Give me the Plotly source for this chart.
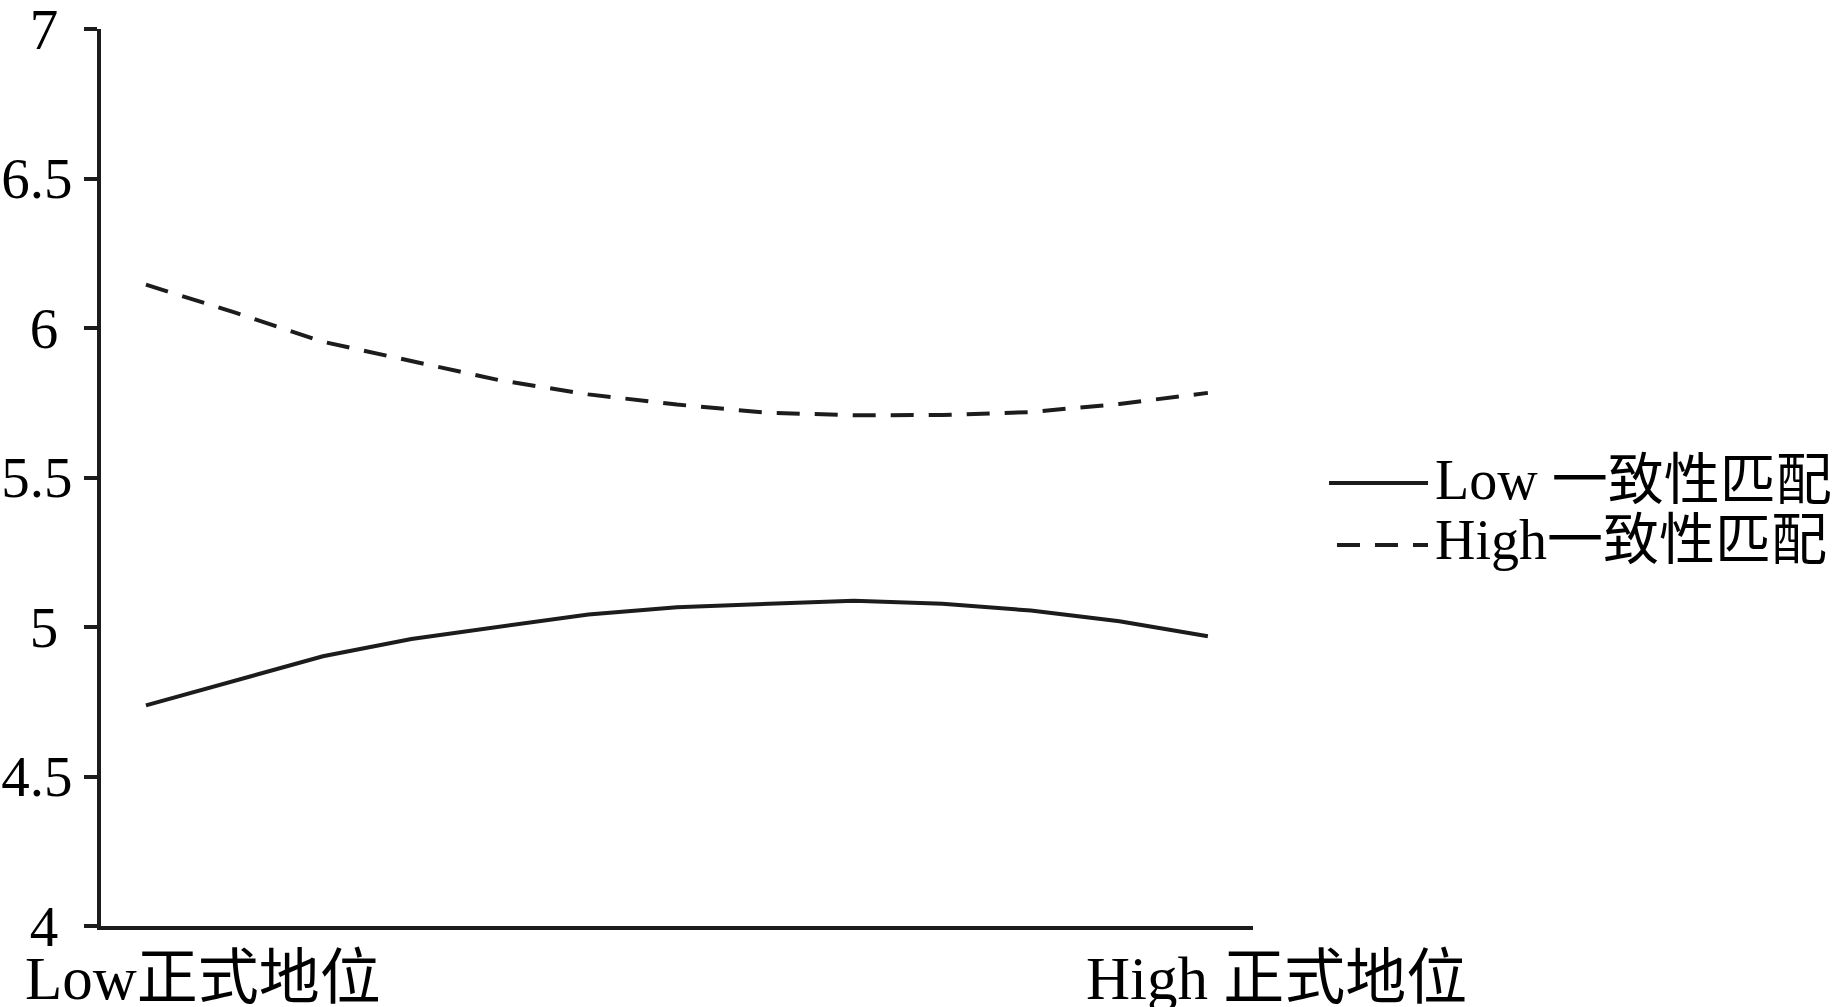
import plotly.graph_objects as go

# ---- data ----
x_points = list(range(13))
low_match = [4.738, 4.82, 4.902, 4.960, 5.002, 5.042, 5.066, 5.077, 5.088, 5.078, 5.055, 5.019, 4.969]
high_match = [6.145, 6.052, 5.954, 5.890, 5.825, 5.778, 5.744, 5.717, 5.708, 5.709, 5.719, 5.746, 5.783]
series_names = ["Low 一致性匹配", "High一致性匹配"]
y_tick_vals = [4, 4.5, 5, 5.5, 6, 6.5, 7]
y_tick_text = ["4\u00a0", "4.5", "5\u00a0", "5.5", "6\u00a0", "6.5", "7\u00a0"]
x_labels = ["Low正式地位", "High 正式地位"]
x_label_pos = [0.0885, 1.0208]   # paper fraction of the plot width

FONT = "Liberation Serif, 'Times New Roman', 'Noto Sans CJK SC', serif"
INK = "#1c1c1c"
FS = 57

fig = go.Figure()
fig.add_trace(go.Scatter(x=x_points, y=low_match, mode="lines", name=series_names[0],
                         line=dict(color=INK, width=4, dash="solid"), showlegend=False))
fig.add_trace(go.Scatter(x=x_points, y=high_match, mode="lines", name=series_names[1],
                         line=dict(color=INK, width=4, dash="23px,15px"), showlegend=False))

fig.update_layout(
    width=1839, height=1007,
    margin=dict(l=101, r=586, t=29, b=81, autoexpand=False),
    paper_bgcolor="white", plot_bgcolor="white",
    font=dict(family=FONT, size=FS, color="black"),
    showlegend=False,
)
fig.update_xaxes(range=[-0.508, 12.51], showgrid=False, zeroline=False,
                 showline=True, linecolor=INK, linewidth=4,
                 showticklabels=False, ticks="", automargin=False)
fig.update_yaxes(range=[4, 7], showgrid=False, zeroline=False,
                 showline=True, linecolor=INK, linewidth=4,
                 ticks="outside", ticklen=13, tickwidth=4, tickcolor=INK,
                 tickvals=y_tick_vals, ticktext=y_tick_text,
                 tickfont=dict(family=FONT, size=FS, color="black"),
                 ticklabelstandoff=0, ticklabeloverflow="allow", automargin=False)

# x category labels
for lab, pos in zip(x_labels, x_label_pos):
    fig.add_annotation(x=pos, y=-0.058, xref="paper", yref="paper", text=lab,
                       showarrow=False, xanchor="center", yanchor="middle",
                       font=dict(family=FONT, size=61, color="black"))

# manual legend
leg_rows = [(0.4972, 0.4939, "solid", 1.0660), (0.4303, 0.4248, "23px,15px", 1.0729)]
for name, (ty, ly, dash, x0) in zip(series_names, leg_rows):
    fig.add_shape(type="line", xref="paper", yref="paper", x0=x0, x1=1.1519, y0=ly, y1=ly,
                  line=dict(color=INK, width=4, dash=dash))
    fig.add_annotation(x=1.156, y=ty, xref="paper", yref="paper", text=name,
                       showarrow=False, xanchor="left", yanchor="middle",
                       font=dict(family=FONT, size=56, color="black"))

fig.write_html("out.html", config={"displayModeBar": False},
               post_script="document.body.style.margin='0';document.body.style.overflow='hidden';")
